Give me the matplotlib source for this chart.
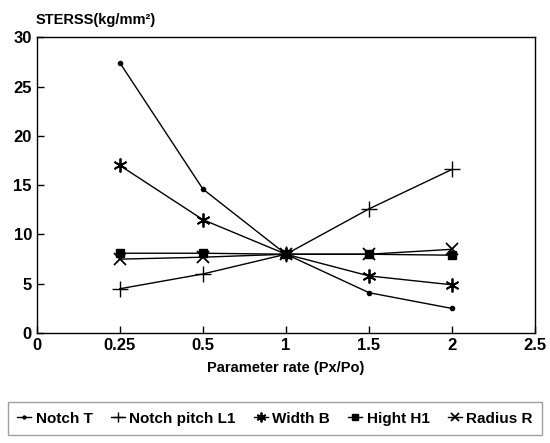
import numpy as np
import matplotlib.pyplot as plt

plt.rcParams['font.family'] = ['Liberation Sans', 'DejaVu Sans']
plt.rcParams['font.weight'] = 'bold'

# category axis (equally spaced)
x_labels = ['0', '0.25', '0.5', '1', '1.5', '2', '2.5']
rates = ['0.25', '0.5', '1', '1.5', '2']

notch_t = [27.4, 14.6, 8.0, 4.1, 2.5]
notch_pitch = [4.5, 6.0, 8.0, 12.6, 16.6]
width_b = [17.0, 11.5, 8.0, 5.8, 4.9]
hight_h1 = [8.1, 8.1, 8.0, 8.0, 7.9]
radius_r = [7.5, 7.7, 8.0, 8.0, 8.5]

fig = plt.figure(figsize=(5.5, 4.43), dpi=100)
ax = fig.add_axes([0.067, 0.248, 0.906, 0.668])

pos = np.array([x_labels.index(r) for r in rates])

ax.plot(pos, notch_t, color='k', lw=1, marker='o', ms=3, label='Notch T')
ax.plot(pos, notch_pitch, color='k', lw=1, marker='+', ms=11, mew=1, label='Notch pitch L1')
ax.plot(pos, width_b, color='k', lw=1, marker=(6, 2, 0), ms=10, mew=1.3, label='Width B')
ax.plot(pos, hight_h1, color='k', lw=1, marker='s', ms=6, label='Hight H1')
ax.plot(pos, radius_r, color='k', lw=1, marker='x', ms=8, mew=1.3, label='Radius R')

ax.set_xlim(0, 6)
ax.set_ylim(0, 30)
ax.set_xticks(range(len(x_labels)))
ax.set_xticklabels(x_labels)
ax.set_yticks(range(0, 31, 5))
ax.tick_params(direction='in', length=5, labelsize=12, width=1)
for s in ax.spines.values():
    s.set_linewidth(1)

ax.set_xlabel('Parameter rate (Px/Po)', fontsize=10.5, fontweight='bold', labelpad=6)
fig.text(0.065, 0.945, 'STERSS(kg/mm²)', fontsize=10.5, fontweight='bold')

leg = fig.legend(loc='center', bbox_to_anchor=(0.5, 0.055), ncol=5, frameon=True,
                 fontsize=11, handlelength=0.9, handletextpad=0.3, columnspacing=1.2,
                 borderpad=0.6, fancybox=False, edgecolor='#888888', markerscale=0.7)
for h in leg.legend_handles:
    h.set_linestyle('-')

fig.savefig('out.png', dpi=100)
